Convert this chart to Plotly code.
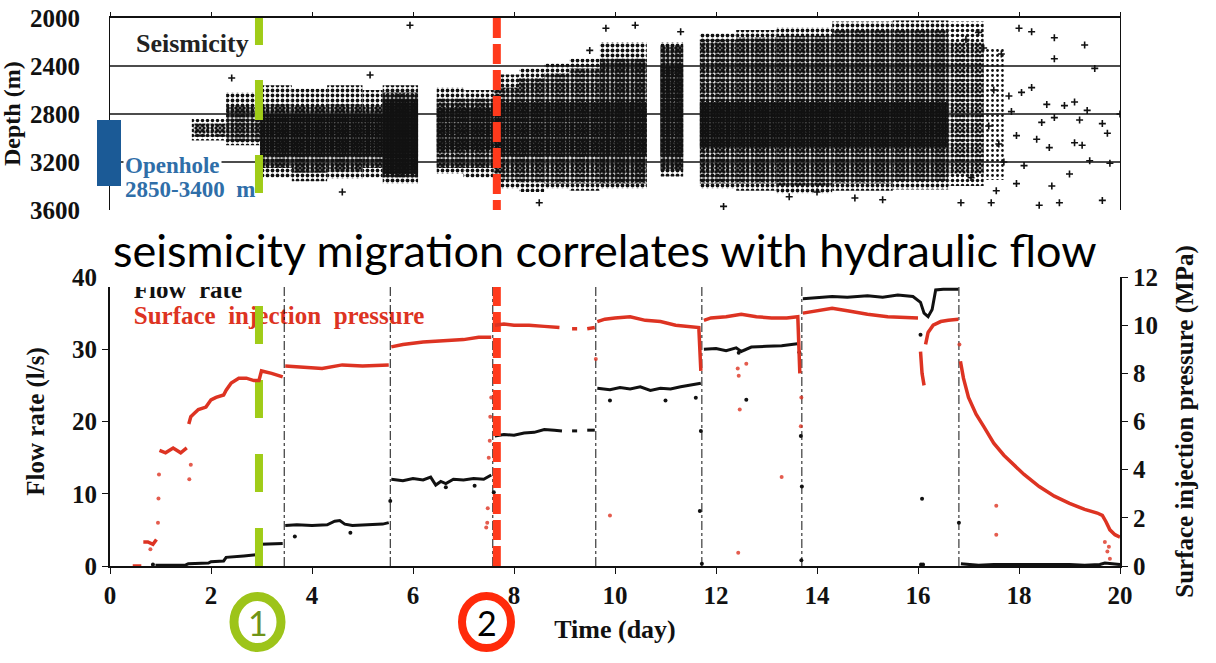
import plotly.graph_objects as go

W, H = 1216, 663

# ---------------- data ----------------
day_ticks = list(range(0, 21, 2))
depth_ticks = [2000, 2400, 2800, 3200, 3600]
depth_grid = [2400, 2800, 3200]
flow_ticks = [0, 10, 20, 30, 40]
pres_ticks = [0, 2, 4, 6, 8, 10, 12]

openhole_top, openhole_bottom = 2850, 3400
event_days = [2.95, 7.66]            # (1) green, (2) red
step_days = [3.45, 5.55, 7.58, 9.62, 11.72, 13.70, 16.81]

# seismicity cloud, fringe (sparse) bins: day start, day end, shallow, deep (m)
fr_t0 = [1.62, 2.30, 2.97, 3.60, 4.30, 5.00, 5.40, 6.47, 7.00, 7.60, 8.10, 8.60, 9.10, 9.70,
         10.90, 11.68, 12.40, 13.20, 14.30, 15.50, 16.60, 17.30]
fr_t1 = [2.30, 2.97, 3.60, 4.30, 5.00, 5.40, 6.10, 7.00, 7.60, 8.10, 8.60, 9.10, 9.70, 10.63,
         11.35, 12.40, 13.20, 14.30, 15.50, 16.60, 17.30, 17.70]
fr_top = [2840, 2620, 2560, 2590, 2560, 2600, 2560, 2580, 2600, 2470, 2420, 2380, 2340, 2200,
          2200, 2130, 2100, 2080, 2030, 2020, 2030, 2250]
fr_bot = [3020, 3060, 3330, 3360, 3340, 3330, 3380, 3300, 3330, 3420, 3450, 3420, 3440, 3420,
          3320, 3420, 3440, 3460, 3440, 3430, 3400, 3350]
fr_den = [0.40, 0.45, 0.45, 0.45, 0.45, 0.45, 0.50, 0.45, 0.45, 0.45, 0.45, 0.45, 0.45, 0.50,
          0.50, 0.45, 0.45, 0.45, 0.45, 0.45, 0.40, 0.25]

# seismicity cloud, main bins
mn_t0 = [1.65, 2.30, 2.97, 3.60, 4.30, 5.00, 5.40, 6.47, 7.60, 8.10, 8.60, 9.10, 9.70, 10.90,
         11.68, 12.40, 13.20, 14.30, 15.50, 16.60]
mn_t1 = [2.30, 2.97, 3.60, 4.30, 5.00, 5.40, 6.10, 7.60, 8.10, 8.60, 9.10, 9.70, 10.63, 11.35,
         12.40, 13.20, 14.30, 15.50, 16.60, 17.30]
mn_top = [2880, 2730, 2720, 2730, 2720, 2730, 2620, 2670, 2580, 2500, 2460, 2420, 2340, 2230,
          2180, 2160, 2150, 2100, 2100, 2200]
mn_bot = [2990, 3030, 3250, 3290, 3280, 3250, 3330, 3250, 3350, 3370, 3380, 3380, 3380, 3270,
          3380, 3380, 3400, 3380, 3360, 3300]
mn_den = [0.55, 0.68, 0.68, 0.68, 0.68, 0.68, 0.78, 0.68, 0.66, 0.66, 0.66, 0.66, 0.70, 0.72,
          0.66, 0.66, 0.66, 0.66, 0.66, 0.50]

# seismicity cloud, densest cores
co_t0 = [2.97, 5.40, 6.47, 7.60, 10.90, 11.68]
co_t1 = [6.10, 6.10, 7.60, 10.63, 11.35, 16.60]
co_top = [2800, 2680, 2750, 2700, 2400, 2700]
co_bot = [3150, 3300, 3100, 3150, 3150, 3080]
co_den = [0.80, 0.85, 0.78, 0.78, 0.78, 0.82]

# isolated events
sparse_t = [2.41, 5.15, 5.94, 4.60, 8.50, 9.50, 9.82, 10.40, 11.30, 12.15, 13.45, 14.00,
            14.75, 15.30, 16.85, 17.45, 18.00, 18.25, 18.70, 19.30, 18.70, 18.25, 19.10, 19.35,
            18.70, 19.65, 17.95, 18.60, 19.10, 19.40, 19.80, 18.65, 18.80, 19.65, 18.40, 20.00,
            17.65, 17.85, 17.70, 18.10, 17.55, 17.95, 17.30, 17.50, 17.80, 18.45, 18.90, 19.20,
            19.50, 19.00, 18.35, 17.40, 17.60, 18.05, 18.55, 19.25, 19.75, 16.95, 17.20, 17.05]
sparse_d = [2500, 2475, 2060, 3450, 3540, 2270, 2085, 2060, 2115, 3570, 3490, 3450,
            3500, 3515, 3540, 3540, 2085, 2115, 2165, 2225, 2340, 2580, 2700, 2770,
            2830, 2880, 2980, 3080, 3040, 3190, 3210, 3400, 3540, 3520, 3560, 2800,
            2300, 2780, 3200, 3230, 3440, 3380, 2250, 2600, 2650, 2870, 2730, 2850,
            2420, 3300, 3010, 2900, 3050, 2620, 2720, 3060, 2960, 2180, 2120, 3330]

# flow rate (l/s)
flow_t = [0.90, 1.20, 1.50, 1.55, 1.80, 1.95, 2.00, 2.25, 2.30, 2.55, 2.65, 2.95, 3.00, 3.42, None,
          3.47, 3.70, 4.00, 4.30, 4.45, 4.55, 4.65, 4.80, 5.10, 5.40, 5.52, None,
          5.57, 5.80, 6.00, 6.20, 6.35, 6.45, 6.55, 6.65, 6.80, 7.00, 7.20, 7.40, 7.55, None,
          7.62, 7.80, 8.00, 8.20, 8.40, 8.60, 8.80, 8.95, None, 9.15, 9.25, None, 9.45, 9.60, None,
          9.65, 9.90, 10.10, 10.30, 10.50, 10.70, 10.90, 11.10, 11.30, 11.50, 11.70, None,
          11.76, 12.00, 12.20, 12.40, 12.50, 12.70, 13.00, 13.30, 13.65, None,
          13.72, 14.00, 14.30, 14.60, 15.00, 15.30, 15.60, 15.90, 16.05, 16.12, 16.20, 16.28,
          16.35, 16.50, 16.80, None,
          16.85, 17.00, 17.20, 17.50, 18.00, 18.50, 19.00, 19.30, 19.60, 19.70, 19.85, 20.00]
flow_v = [0.1, 0.1, 0.15, 0.3, 0.35, 0.4, 0.6, 0.7, 1.2, 1.4, 1.4, 1.6, 3.0, 3.1, None,
          5.6, 5.7, 5.6, 5.7, 6.2, 6.3, 5.8, 5.6, 5.7, 5.8, 6.0, None,
          12.0, 11.8, 12.1, 11.9, 12.3, 11.2, 11.7, 11.4, 12.0, 11.9, 12.1, 12.0, 12.6, None,
          18.0, 18.2, 18.1, 18.4, 18.5, 18.9, 18.8, 18.7, None, 18.7, 18.7, None, 18.8, 18.8, None,
          24.6, 24.4, 24.7, 24.5, 24.8, 24.3, 24.6, 24.5, 24.8, 25.0, 25.3, None,
          30.0, 30.1, 29.8, 30.2, 29.7, 30.3, 30.4, 30.5, 30.8, None,
          37.0, 37.1, 37.3, 37.2, 37.4, 37.2, 37.5, 37.3, 36.5, 35.0, 34.5, 35.5,
          38.2, 38.3, 38.3, None,
          0.3, 0.2, 0.1, 0.2, 0.2, 0.3, 0.2, 0.1, 0.2, 0.4, 0.3, 0.2]
flow_out_t = [0.85, 3.66, 4.76, 5.55, 7.60, 7.22, 6.65, 9.90, 11.00, 11.60, 11.68, 11.70, 11.72,
              12.45, 12.60, 13.65, 13.68, 13.70, 13.69, 16.05, 16.08, 16.06, 16.10, 16.81]
flow_out_v = [0.2, 4.1, 4.6, 9.0, 10.2, 11.1, 10.9, 22.9, 22.9, 23.3, 7.6, 18.7, 0.3,
              29.5, 23.0, 29.6, 18.0, 11.0, 0.8, 32.0, 9.3, 0.2, 0.2, 6.0]

# surface injection pressure (MPa)
pres_t = [0.45, 0.62, None, 0.66, 0.75, 0.85, 0.92, None,
          0.98, 1.10, 1.25, 1.40, 1.52, None,
          1.56, 1.60, 1.65, 1.75, 1.90, 2.00, 2.10, 2.25, 2.30, 2.40, 2.55, 2.70, 2.85, 2.95,
          3.00, 3.20, 3.42, None,
          3.47, 3.80, 4.20, 4.60, 5.00, 5.52, None,
          5.57, 5.80, 6.20, 6.60, 7.00, 7.30, 7.55, None,
          7.62, 7.80, 8.00, 8.30, 8.60, 8.90, None, 9.15, 9.25, None, 9.45, 9.60, None,
          9.65, 9.80, 10.00, 10.30, 10.60, 10.90, 11.20, 11.50, 11.66, 11.70, None,
          11.76, 11.90, 12.20, 12.50, 12.80, 13.10, 13.40, 13.62, 13.66, None,
          13.72, 14.00, 14.30, 14.60, 15.00, 15.40, 15.80, 16.00, None,
          16.05, 16.08, 16.12, None, 16.15, 16.20, 16.30, 16.45, 16.60, 16.80, None,
          16.84, 16.90, 17.00, 17.15, 17.30, 17.50, 17.70, 17.90, 18.10, 18.40, 18.70, 19.00,
          19.30, 19.55, 19.65, 19.72, 19.80, 19.90, 20.00]
pres_v = [0.0, 0.0, None, 1.0, 1.0, 0.9, 1.1, None,
          4.8, 4.7, 4.9, 4.7, 4.9, None,
          5.9, 6.2, 6.3, 6.5, 6.6, 6.9, 7.0, 7.1, 7.3, 7.6, 7.8, 7.8, 7.7, 7.7,
          8.1, 8.0, 7.85, None,
          8.3, 8.25, 8.2, 8.35, 8.3, 8.35, None,
          9.1, 9.2, 9.3, 9.35, 9.4, 9.5, 9.5, None,
          10.0, 10.05, 10.0, 10.0, 9.95, 9.9, None, 9.85, 9.85, None, 9.85, 9.9, None,
          10.15, 10.25, 10.3, 10.35, 10.2, 10.15, 10.0, 9.95, 9.9, 8.1, None,
          10.2, 10.3, 10.35, 10.45, 10.35, 10.3, 10.3, 10.35, 8.0, None,
          10.5, 10.6, 10.7, 10.6, 10.45, 10.35, 10.3, 10.3, None,
          8.9, 8.0, 7.5, None, 9.2, 9.7, 10.0, 10.15, 10.2, 10.25, None,
          8.5, 7.8, 7.0, 6.3, 5.8, 5.1, 4.6, 4.2, 3.8, 3.3, 2.9, 2.6,
          2.35, 2.2, 2.1, 1.85, 1.5, 1.3, 1.2]
pres_out_t = [0.95, 0.96, 0.97, 1.57, 1.60, 7.45, 7.47, 7.48, 7.50, 7.52, 7.53, 7.55, 9.62, 9.90,
              12.43, 12.45, 12.47, 12.44, 12.60, 13.30, 13.68, 13.69, 16.82, 17.55, 17.55,
              19.70, 19.75, 19.80, 19.78, 0.80]
pres_out_v = [1.8, 2.8, 3.8, 3.6, 4.2, 1.6, 1.8, 2.4, 4.5, 5.2, 6.2, 7.0, 8.6, 2.1,
              8.2, 7.9, 6.5, 0.55, 8.4, 3.7, 5.8, 7.0, 9.2, 2.5, 1.3,
              1.0, 0.6, 0.3, 0.8, 0.7]

# ---------------- style ----------------
SERIF = "Liberation Serif"
BLACK = "#111111"
RED = "#dd3322"
GREEN = "#a0cc18"
EVRED = "#ff3a1c"
BLUE_RECT = "#1b5a96"
BLUE_TXT = "#2f6ea8"

X0, X1 = 110 / W, 1120 / W
TOP_DOM = [(H - 210) / H, (H - 18) / H]
BOT_DOM = [(H - 566) / H, (H - 277) / H]


def px_x(p):
    return p / W


def px_y(p):
    return (H - p) / H


fig = go.Figure()


def cloud(t0, t1, top, bot, den, size):
    fig.add_trace(go.Bar(
        x=[(a + b) / 2 for a, b in zip(t0, t1)],
        width=[b - a for a, b in zip(t0, t1)],
        base=top,
        y=[b - a for a, b in zip(top, bot)],
        xaxis="x", yaxis="y",
        marker=dict(color=BLACK, line=dict(width=0),
                    pattern=dict(shape=".", size=size, solidity=den, fillmode="replace")),
        hoverinfo="skip", showlegend=False,
    ))


cloud(fr_t0, fr_t1, fr_top, fr_bot, fr_den, 5)
cloud(mn_t0, mn_t1, mn_top, mn_bot, mn_den, 4)
cloud(co_t0, co_t1, co_top, co_bot, co_den, 3)

fig.add_trace(go.Scatter(
    x=sparse_t, y=sparse_d, mode="markers", xaxis="x", yaxis="y",
    marker=dict(symbol="cross-thin", size=5, line=dict(width=1.6, color=BLACK)),
    hoverinfo="skip", showlegend=False))

# bottom: legend-like texts
fig.add_trace(go.Scatter(
    x=[0.47], y=[37.9], mode="text", text=["<b>Flow  rate</b>"], textposition="middle right",
    textfont=dict(family=SERIF, size=25, color=BLACK), xaxis="x2", yaxis="y3",
    cliponaxis=True, hoverinfo="skip", showlegend=False))
fig.add_trace(go.Scatter(
    x=[0.47], y=[34.3], mode="text", text=["<b>Surface  injection  pressure</b>"],
    textposition="middle right",
    textfont=dict(family=SERIF, size=25, color=RED), xaxis="x2", yaxis="y3",
    cliponaxis=True, hoverinfo="skip", showlegend=False))

# step transitions (dash-dot)
sx, sy = [], []
for d in step_days:
    sx += [d, d, None]
    sy += [0, 40, None]
fig.add_trace(go.Scatter(x=sx, y=sy, mode="lines", xaxis="x2", yaxis="y3",
                         line=dict(color=BLACK, width=1, dash="dashdot"),
                         hoverinfo="skip", showlegend=False))

# flow rate
fig.add_trace(go.Scatter(x=flow_t, y=flow_v, mode="lines", xaxis="x2", yaxis="y3",
                         line=dict(color=BLACK, width=3), connectgaps=False,
                         hoverinfo="skip", showlegend=False))
fig.add_trace(go.Scatter(x=flow_out_t, y=flow_out_v, mode="markers", xaxis="x2", yaxis="y3",
                         marker=dict(color=BLACK, size=4),
                         hoverinfo="skip", showlegend=False))

# pressure
fig.add_trace(go.Scatter(x=pres_t, y=pres_v, mode="lines", xaxis="x2", yaxis="y4",
                         line=dict(color=RED, width=3.5), connectgaps=False,
                         hoverinfo="skip", showlegend=False))
fig.add_trace(go.Scatter(x=pres_out_t, y=pres_out_v, mode="markers", xaxis="x2", yaxis="y4",
                         marker=dict(color=RED, size=4, opacity=0.8),
                         hoverinfo="skip", showlegend=False))

# event lines
g, r = event_days
fig.add_trace(go.Scatter(x=[g, g], y=[2000, 3480], mode="lines", xaxis="x", yaxis="y",
                         line=dict(color=GREEN, width=8, dash="27px,35px,40px,35px,38px,200px"),
                         hoverinfo="skip", showlegend=False))
fig.add_trace(go.Scatter(x=[g, g], y=[0, 36.6], mode="lines", xaxis="x2", yaxis="y3",
                         line=dict(color=GREEN, width=8, dash="38px,36px"),
                         hoverinfo="skip", showlegend=False))
fig.add_trace(go.Scatter(x=[r, r], y=[2000, 3600], mode="lines", xaxis="x", yaxis="y",
                         line=dict(color=EVRED, width=8, dash="20px,6px"),
                         hoverinfo="skip", showlegend=False))
fig.add_trace(go.Scatter(x=[r, r], y=[0, 40], mode="lines", xaxis="x2", yaxis="y3",
                         line=dict(color=EVRED, width=8, dash="20px,6px"),
                         hoverinfo="skip", showlegend=False))

tick_font = dict(family=SERIF, size=25, color=BLACK, weight="bold")
title_font = dict(family=SERIF, size=25, color=BLACK, weight="bold")

shapes = []
for d in depth_grid:
    shapes.append(dict(type="line", xref="x domain", yref="y", x0=0, x1=1, y0=d, y1=d,
                       line=dict(color=BLACK, width=1.6), layer="below"))
shapes.append(dict(type="rect", xref="paper", yref="y", x0=px_x(97), x1=px_x(121),
                   y0=openhole_top, y1=openhole_bottom, fillcolor=BLUE_RECT,
                   line=dict(width=0), layer="above"))
# white caption band that trims the top of the lower panel
shapes.append(dict(type="rect", xref="paper", yref="paper", x0=px_x(100), x1=px_x(1112),
                   y0=px_y(287), y1=px_y(224), fillcolor="white", line=dict(width=0),
                   layer="above"))
# numbered circles
shapes.append(dict(type="circle", xref="paper", yref="paper",
                   x0=px_x(257.5 - 23.5), x1=px_x(257.5 + 23.5),
                   y0=px_y(622 + 25.5), y1=px_y(622 - 25.5),
                   line=dict(color="#9dc41a", width=9)))
shapes.append(dict(type="circle", xref="paper", yref="paper",
                   x0=px_x(486.5 - 24.5), x1=px_x(486.5 + 24.5),
                   y0=px_y(622 + 26), y1=px_y(622 - 26),
                   line=dict(color="#ff2a0a", width=8)))

annotations = [
    dict(text="seismicity migration correlates with hydraulic flow", xref="paper", yref="paper",
         x=px_x(604), y=px_y(250), showarrow=False, xanchor="center", yanchor="middle",
         font=dict(family="Lato", size=45, color="black")),
    dict(text="<b>Seismicity</b>", xref="paper", yref="paper", x=px_x(134), y=px_y(44),
         xanchor="left", yanchor="middle", showarrow=False,
         font=dict(family=SERIF, size=26, color="#222222")),
    dict(text="<b>Openhole</b>", xref="paper", yref="paper", x=px_x(123), y=px_y(165),
         xanchor="left", yanchor="middle", showarrow=False, bgcolor="white", borderpad=1,
         font=dict(family=SERIF, size=23, color=BLUE_TXT)),
    dict(text="<b>2850-3400  </b><b>m</b>", xref="paper", yref="paper", x=px_x(123), y=px_y(189),
         xanchor="left", yanchor="middle", showarrow=False,
         font=dict(family=SERIF, size=23, color=BLUE_TXT)),
    dict(text="<b>Depth (m)</b>", xref="paper", yref="paper", x=px_x(12), y=px_y(114),
         xanchor="center", yanchor="middle", showarrow=False, textangle=-90,
         font=dict(family=SERIF, size=24, color=BLACK)),
    dict(text="1", xref="paper", yref="paper", x=px_x(257.5), y=px_y(622),
         xanchor="center", yanchor="middle", showarrow=False,
         font=dict(family="Lato", size=34, color="#6f9418")),
    dict(text="2", xref="paper", yref="paper", x=px_x(486.5), y=px_y(622),
         xanchor="center", yanchor="middle", showarrow=False,
         font=dict(family="Lato", size=34, color="black")),
]

fig.update_layout(
    width=W, height=H, margin=dict(l=0, r=0, t=0, b=0, autoexpand=False),
    paper_bgcolor="white", plot_bgcolor="rgba(0,0,0,0)",
    barmode="overlay", showlegend=False,
    xaxis=dict(domain=[X0, X1], anchor="y", side="top", range=[0, 20], tickvals=day_ticks,
               showticklabels=False, ticks="outside", ticklen=4, tickcolor=BLACK, automargin=False,
               showline=True, linecolor=BLACK, linewidth=2, showgrid=False, zeroline=False),
    yaxis=dict(domain=TOP_DOM, anchor="x", range=[3600, 2000], tickvals=depth_ticks,
               ticktext=[str(v) for v in depth_ticks], tickfont=tick_font, ticks="",
               ticklabelstandoff=24, showline=True, mirror=True, linecolor=BLACK, linewidth=1.2,
               showgrid=False, zeroline=False, automargin=False),
    xaxis2=dict(domain=[X0, X1], anchor="y3", range=[0, 20], tickvals=day_ticks,
                tickfont=tick_font, ticks="outside", ticklen=6, tickcolor=BLACK, automargin=False,
                showline=True, linecolor=BLACK, linewidth=2, showgrid=False, zeroline=False,
                title=dict(text="Time (day)", font=dict(family=SERIF, size=26, color=BLACK,
                                                         weight="bold"), standoff=12)),
    yaxis3=dict(domain=BOT_DOM, anchor="x2", range=[0, 40], tickvals=flow_ticks,
                tickfont=tick_font, ticks="outside", ticklen=6, tickcolor=BLACK, automargin=False,
                showline=True, linecolor=BLACK, linewidth=2, showgrid=False, zeroline=False,
                title=dict(text="Flow rate (l/s)", font=title_font, standoff=20)),
    yaxis4=dict(overlaying="y3", anchor="x2", side="right", range=[0, 12], tickvals=pres_ticks,
                tickfont=tick_font, ticks="outside", ticklen=6, tickcolor=BLACK, automargin=False,
                showline=True, linecolor=BLACK, linewidth=2, showgrid=False, zeroline=False,
                title=dict(text="Surface injection pressure (MPa)", font=title_font, standoff=18)),
    shapes=shapes, annotations=annotations,
)

fig.write_html("out.html", config={"displayModeBar": False},
               post_script="document.body.style.margin='0px';")
